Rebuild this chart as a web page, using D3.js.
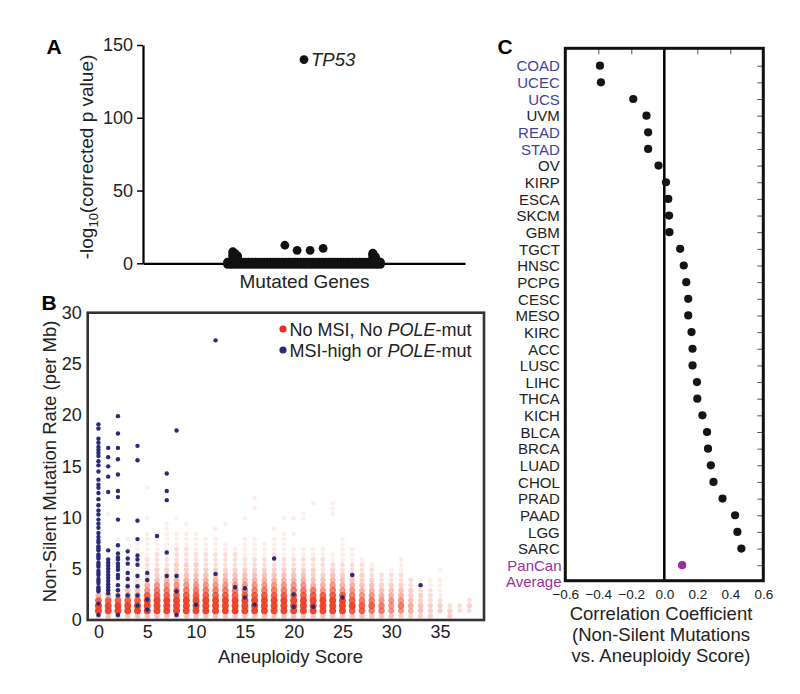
<!DOCTYPE html>
<html><head><meta charset="utf-8">
<script src="https://cdn.jsdelivr.net/npm/d3@7"></script>
<style>body{margin:0;background:#fff} svg{font-family:"Liberation Sans",Arial,sans-serif}</style>
</head><body><svg id="c" width="800" height="694"></svg>
<script>
// ---------- Panel A data ----------
const pTicks = [0, 50, 100, 150];
const topGeneName = "TP53";
const topGenePos = 0;
const topGeneVal = 140;
const sigGenePos = [-0.25, -0.09, 0.08, 0.25];
const sigGeneVal = [12.4, 8.9, 8.9, 10.3];
const bulkGenePos = [-1,-0.96,-0.92,-0.88,-0.84,-0.8,-0.76,-0.72,-0.68,-0.64,-0.6,-0.56,-0.52,-0.48,-0.44,-0.4,-0.36,-0.32,-0.28,-0.24,-0.2,-0.16,-0.12,-0.08,-0.04,0,0.04,0.08,0.12,0.16,0.2,0.24,0.28,0.32,0.36,0.4,0.44,0.48,0.52,0.56,0.6,0.64,0.68,0.72,0.76,0.8,0.84,0.88,0.92,0.96,1];
const bulkGeneVal = [0, 0.8, -0.8];
const bumpGenePos = [-0.93,-0.93,-0.93,-0.93,-0.9,-0.9,-0.87,-0.87,0.9,0.9,0.9,0.9,0.93,0.94];
const bumpGeneVal = [1.5,3.5,5.5,7.8,2.5,6.5,2.5,5,1.5,3.5,5.5,6.8,4.5,3];

// ---------- Panel B data ----------
const scoreTicks = [0,5,10,15,20,25,30,35];
const rateTicks = [0,5,10,15,20,25,30];
const rateBins = [0.4,0.9,1.4,1.9,2.4,2.9,3.4,3.9,4.4,4.9,5.4,5.9,6.4,6.9,7.4,7.9,8.4,8.9,9.4,9.9,10.4,10.9,11.4,11.9,12.4,12.9];
// density level (0-9) of non-MSI samples per rate bin, one row per aneuploidy score 0..38
const redLevels = [
 [4,9,9,8,5,3,2,2,1,1,1,1,1,1],
 [4,9,9,8,5,3,2,2,1,1,1,1,1,0,0,0,0,0,0,0,1],
 [4,9,9,8,5,3,2,2,2,1,1,1,1,1,0,1],
 [4,9,9,8,6,4,3,2,2,1,1,1,1,1,0,1],
 [4,9,9,8,6,4,3,2,2,1,1,1,1,1,1,0,0,0,0,1],
 [4,9,9,9,8,6,5,4,3,2,2,2,1,1,1,1,1,0,0,1,0,0,0,0,0,1],
 [4,9,9,9,8,7,6,4,3,3,2,2,2,1,1,1,1],
 [4,9,9,9,8,7,6,5,4,3,2,2,2,1,1,1,1,1,1],
 [4,9,9,9,8,7,6,5,4,3,3,2,2,2,1,1,1,0,0,1],
 [4,9,9,9,8,7,6,5,4,3,3,2,2,2,1,1,1,0,1],
 [4,9,9,9,8,7,6,5,4,3,3,2,2,1,1,1,1],
 [4,9,9,9,8,7,6,5,4,3,2,2,2,1,1,1],
 [4,9,9,9,8,7,6,5,4,3,2,2,2,1,1,1,0,1],
 [4,9,9,9,8,7,6,5,4,3,2,2,2,1,1,0,0,0,1],
 [4,9,9,9,8,7,6,5,4,3,2,2,2,1],
 [4,9,9,9,8,7,6,5,4,3,2,2,1,1,1,1,0,0,0,1],
 [4,9,9,9,8,7,6,5,4,3,2,2,1,1,1,1,0,0,0,0,0,1,0,1],
 [4,9,9,9,8,7,6,5,4,3,2,2,1,1,1],
 [4,9,9,9,8,7,6,5,4,3,2,2,2,1,1,1,0,1],
 [4,9,9,9,8,7,6,5,4,3,2,2,1,1,1,1,1,0,0,1],
 [4,9,9,9,8,7,6,5,4,3,2,2,1,1,0,0,1,0,0,1],
 [4,9,9,9,8,7,6,5,4,3,2,2,1,1,0,0,0,0,0,1,1],
 [4,9,9,9,8,7,5,4,3,3,2,2,1,1,0,0,0,0,0,0,0,0,1],
 [4,9,9,9,8,6,5,4,3,2,2,2,1,1],
 [4,9,9,9,8,7,6,5,4,3,2,1,1,0,0,0,0,0,0,0,1,1,1],
 [4,9,9,9,8,6,5,4,3,2,2,1,1,1,1,1],
 [4,8,9,8,7,6,5,4,3,2,2,1,1,1],
 [4,8,8,7,6,5,4,3,3,2,2,1],
 [4,7,8,7,6,5,4,3,2,2,1],
 [4,7,7,6,5,4,3,2,2],
 [4,6,6,6,5,4,3,2,2,1],
 [3,6,7,6,5,4,3,2,2,1,1,1],
 [3,5,5,4,3,3,2,2],
 [3,4,4,3,3,2,2,1],
 [3,3,3,2,2,2,1,1],
 [0,3,3,2,1,1,1,1,0,1],
 [3,3,2],
 [0,2,2],
 [0,2,3,2]
];
const blueScores = [0,1,2,3,4,5,6,7,8,10,12,14,15,16,18,20,22,25,26,33];
const blueRates = [
 [19.1,18.7,17.7,17.3,16.9,16.6,16.3,16.0,15.5,15.1,14.5,13.7,13.2,12.9,12.4,11.8,11.2,10.7,10.3,9.8,9.4,9.0,8.5,8.1,7.8,7.6,7.2,7.0,6.8,6.4,6.2,6.0,5.6,5.4,5.2,4.8,4.6,4.4,4.0,3.8,3.6,3.2,3.0,2.8,1.6,0.5],
 [16.8,15.9,15.0,14.0,12.5,6.8,5.9,5.6,5.3,5.0,4.7,4.4,4.1,3.8,3.5,3.2,2.9,2.6],
 [19.9,18.2,16.8,15.7,14.2,12.6,12.0,9.8,7.3,6.5,6.1,5.9,5.5,5.2,4.9,4.4,4.1,3.4,2.9,2.4,0.5],
 [6.7,6.0,5.5,4.6,4.0,3.3,2.4],
 [17.0,15.6,9.7,7.9,6.3,5.9,5.4,4.3,3.3,2.4,1.4],
 [4.6,3.9,2.0,1.0],
 [8.2],
 [14.3,12.6,11.7,6.6,4.3],
 [18.5,4.3,2.8,0.5],
 [1.5],
 [27.3,4.5],
 [3.2],
 [3.1,2.2],
 [1.5],
 [6.0],
 [2.5,1.3],
 [1.3],
 [2.2],
 [4.4],
 [3.4]
];

// ---------- Panel C data ----------
const cancerTypes = ["COAD","UCEC","UCS","UVM","READ","STAD","OV","KIRP","ESCA","SKCM","GBM","TGCT","HNSC","PCPG","CESC","MESO","KIRC","ACC","LUSC","LIHC","THCA","KICH","BLCA","BRCA","LUAD","CHOL","PRAD","PAAD","LGG","SARC","PanCan"];
const corrValues = [-0.39,-0.384,-0.188,-0.108,-0.098,-0.098,-0.035,0.01,0.024,0.029,0.031,0.096,0.118,0.133,0.145,0.145,0.165,0.171,0.171,0.198,0.2,0.231,0.259,0.265,0.282,0.298,0.353,0.429,0.443,0.467,0.108];
const msiTypes = ["COAD","UCEC","UCS","READ","STAD"];
const corrTicks = [-0.6,-0.4,-0.2,0,0.2,0.4,0.6];

const svg = d3.select("#c");

// ================= Panel A =================
const xA = d3.scaleLinear().domain([-1,1]).range([227.5,380.5]);
const yA = d3.scaleLinear().domain([0,150]).range([263.3,45]);
const gA = svg.append("g");
const ayA = gA.append("g").attr("transform","translate(143,0)")
  .call(d3.axisLeft(yA).tickValues(pTicks).tickSize(6).tickSizeOuter(0).tickPadding(4));
ayA.select(".domain").attr("stroke","#000").attr("stroke-width",2.2);
ayA.selectAll(".tick line").attr("stroke","#000").attr("stroke-width",1.5);
ayA.selectAll("text").attr("font-size",18).attr("fill","#222");
const catA = d3.scalePoint().domain(["Mutated Genes"]).range([143,465]);
const axA = gA.append("g").attr("transform","translate(0,263.3)")
  .call(d3.axisBottom(catA).tickSize(5).tickSizeOuter(0).tickPadding(6));
axA.select(".domain").attr("stroke","#000").attr("stroke-width",2.2);
axA.selectAll(".tick line").attr("stroke","#000").attr("stroke-width",1.2);
axA.selectAll("text").attr("font-size",19).attr("fill","#222");
const ylA = gA.append("text").attr("transform","translate(86,157) rotate(-90)")
  .attr("text-anchor","middle").attr("dy","0.35em").attr("font-size",19).attr("fill","#222");
ylA.append("tspan").text("-log");
ylA.append("tspan").attr("font-size",13).attr("dy",5).text("10");
ylA.append("tspan").attr("dy",-5).text("(corrected p value)");
// points
bulkGeneVal.forEach(v=>{
  gA.append("g").selectAll("circle").data(bulkGenePos).join("circle")
    .attr("cx",d=>xA(d)).attr("cy",yA(v)).attr("r",4.3).attr("fill","#111");
});
gA.selectAll(".bump").data(bumpGenePos).join("circle")
  .attr("cx",d=>xA(d)).attr("cy",(d,i)=>yA(bumpGeneVal[i])).attr("r",4.6).attr("fill","#111");
gA.selectAll(".sig").data(sigGenePos).join("circle")
  .attr("cx",d=>xA(d)).attr("cy",(d,i)=>yA(sigGeneVal[i])).attr("r",4.4).attr("fill","#111");
gA.append("circle").attr("cx",xA(topGenePos)).attr("cy",yA(topGeneVal)).attr("r",4.4).attr("fill","#111");
gA.append("text").attr("x",xA(topGenePos)+7).attr("y",yA(topGeneVal)+6.5)
  .attr("font-size",18.5).attr("font-style","italic").attr("fill","#222").text(topGeneName);
svg.append("text").attr("x",46.5).attr("y",54).attr("font-size",21).attr("font-weight","bold").text("A");

// ================= Panel B =================
const xB = d3.scaleLinear().domain([-1.1,39.5]).range([87.7,484]);
const yB = d3.scaleLinear().domain([0,30]).range([620,312.7]);
const gB = svg.append("g");
const op = d3.scaleLinear().domain([1,5,9]).range([0.09,0.4,0.95]);
const rad = d3.scaleLinear().domain([1,9]).range([2.3,3.5]);
const redPts = [];
redLevels.forEach((lv,s)=>lv.forEach((l,i)=>{ if(l>0) redPts.push({s, v:rateBins[i], l}); }));
gB.selectAll(".red").data(redPts).join("circle")
  .attr("cx",d=>xB(d.s)).attr("cy",d=>yB(d.v)).attr("r",d=>rad(d.l))
  .attr("fill","rgb(234,62,36)").attr("fill-opacity",d=>op(d.l));
const bluePts = [];
blueScores.forEach((s,k)=>blueRates[k].forEach(v=>bluePts.push({s,v})));
gB.selectAll(".blue").data(bluePts).join("circle")
  .attr("cx",d=>xB(d.s)).attr("cy",d=>yB(d.v)).attr("r",2.2).attr("fill","#272b7a");
gB.append("rect").attr("x",87.7).attr("y",312.7).attr("width",396.3).attr("height",307.3)
  .attr("fill","none").attr("stroke","#333").attr("stroke-width",2.6);
const ayB = gB.append("g").attr("transform","translate(87.7,0)")
  .call(d3.axisLeft(yB).tickValues(rateTicks).tickSize(0).tickPadding(6));
ayB.select(".domain").remove();
ayB.selectAll("text").attr("font-size",18).attr("fill","#222");
const axB = gB.append("g").attr("transform","translate(0,620)")
  .call(d3.axisBottom(xB).tickValues(scoreTicks).tickSize(0).tickPadding(5.5));
axB.select(".domain").remove();
axB.selectAll("text").attr("font-size",18).attr("fill","#222");
gB.append("text").attr("x",290.5).attr("y",663).attr("text-anchor","middle")
  .attr("font-size",18.5).attr("fill","#222").text("Aneuploidy Score");
gB.append("text").attr("transform","translate(50,461.5) rotate(-90)").attr("text-anchor","middle")
  .attr("dy","0.35em").attr("font-size",18.5).attr("fill","#222").text("Non-Silent Mutation Rate (per Mb)");
// legend
const legB = [{c:"#ee2a24", a:"No MSI, No ", b:"-mut", y:329},{c:"#272b7a", a:"MSI-high or ", b:"-mut", y:350}];
legB.forEach(d=>{
  gB.append("circle").attr("cx",283).attr("cy",d.y).attr("r",3.6).attr("fill",d.c);
  const t = gB.append("text").attr("x",289.5).attr("y",d.y+6.5).attr("font-size",18).attr("fill","#222");
  t.append("tspan").text(d.a);
  t.append("tspan").attr("font-style","italic").text("POLE");
  t.append("tspan").text(d.b);
});
svg.append("text").attr("x",41.5).attr("y",310).attr("font-size",21).attr("font-weight","bold").text("B");

// ================= Panel C =================
const xC = d3.scaleLinear().domain([-0.6,0.6]).range([565.3,763.3]);
const yC = d3.scalePoint().domain(cancerTypes).range([65.7,565.2]);
const gC = svg.append("g");
gC.append("line").attr("x1",xC(0)).attr("x2",xC(0)).attr("y1",48.3).attr("y2",580.7)
  .attr("stroke","#000").attr("stroke-width",2.5);
const tt = gC.append("g").attr("transform","translate(0,48.3)")
  .call(d3.axisBottom(xC).tickValues([-0.4,-0.2,0.2,0.4]).tickSize(6).tickFormat(""));
tt.select(".domain").remove();
tt.selectAll(".tick line").attr("stroke","#555").attr("stroke-width",1);
const rt = gC.append("g").attr("transform","translate(763.3,0)")
  .call(d3.axisLeft(yC).tickSize(6).tickFormat(""));
rt.select(".domain").remove();
rt.selectAll(".tick line").attr("stroke","#555").attr("stroke-width",1);
gC.append("rect").attr("x",565.3).attr("y",48.3).attr("width",198).attr("height",532.4)
  .attr("fill","none").attr("stroke","#111").attr("stroke-width",3);
gC.selectAll(".dotC").data(cancerTypes).join("circle")
  .attr("cx",(d,i)=>xC(corrValues[i])).attr("cy",d=>yC(d)).attr("r",4.1)
  .attr("fill",d=>d==="PanCan" ? "#9c2ea0" : "#151515");
const ly = gC.append("g").attr("transform","translate(565.3,0)")
  .call(d3.axisLeft(yC).tickSize(0).tickPadding(5.5));
ly.select(".domain").remove();
ly.selectAll("text").attr("font-size",15).attr("dy","0.35em")
  .attr("fill",d=>d==="PanCan" ? "#9c2ea0" : (msiTypes.includes(d) ? "#3d43a0" : "#222"));
ly.selectAll(".tick").filter(d=>d==="PanCan").append("text")
  .attr("x",-3.8).attr("y",16.5).attr("dy","0.35em").attr("text-anchor","end")
  .attr("font-size",15).attr("fill","#9c2ea0").text("Average");
ly.selectAll(".tick").filter(d=>d==="PanCan").select("text").attr("x",-3.8);
const bx = gC.append("g").attr("transform","translate(0,580.7)")
  .call(d3.axisBottom(xC).tickValues(corrTicks).tickSize(0).tickPadding(9).tickFormat(d3.format(".1f")));
bx.select(".domain").remove();
bx.selectAll("text").attr("font-size",13.5).attr("fill","#222");
["Correlation Coefficient","(Non-Silent Mutations","vs. Aneuploidy Score)"].forEach((s,i)=>{
  gC.append("text").attr("x",661).attr("y",619.5+i*21).attr("text-anchor","middle")
    .attr("font-size",18.5).attr("fill","#222").text(s);
});
svg.append("text").attr("x",497.5).attr("y",54).attr("font-size",21).attr("font-weight","bold").text("C");
</script></body></html>
